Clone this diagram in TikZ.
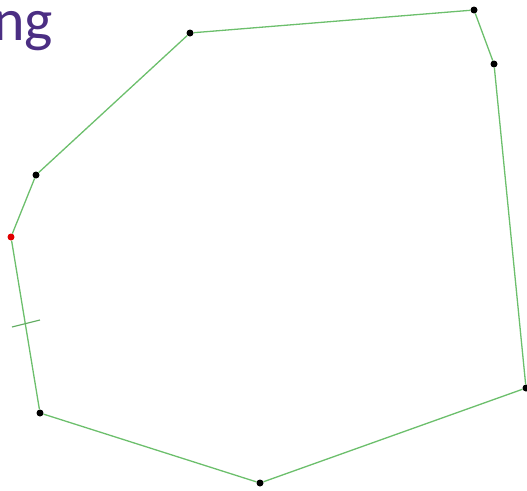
\documentclass[tikz,border=0pt]{standalone}
\usepackage{fontspec}
\setmainfont{Carlito}
\usetikzlibrary{positioning, calc}
\usepackage{xcolor}
\definecolor{titlecol}{HTML}{4B2E83}
\definecolor{edgecol}{HTML}{6CBF6C}
\definecolor{startcol}{HTML}{E00000}

\begin{document}
\begin{tikzpicture}[
  x=1pt, y=-1pt,
  vtx/.style={circle, fill=black, inner sep=0pt, minimum size=7pt},
  edge/.style={draw=edgecol, line width=1.3pt},
]
\useasboundingbox (0,0) rectangle (527,490);

% Title fragment
\node[anchor=base west, inner sep=0pt, text=titlecol, font=\fontsize{60}{60}\selectfont] (title) at (-7,40) {ng};

% Polygon vertices
\node[vtx] (a) at (190,33) {};
\node[vtx] (b) at (474,10) {};
\node[vtx] (c) at (494,64) {};
\node[vtx] (d) at (526,388) {};
\node[vtx] (e) at (260,483) {};
\node[vtx] (f) at (40,413) {};
\node[vtx, fill=startcol] (g) at (11,237) {};
\node[vtx] (h) at (36,175) {};

% Edges
\foreach \u/\v in {a/b, b/c, c/d, d/e, e/f, f/g, g/h, h/a} {
  \draw[edge] (\u) -- (\v);
}

% Tick mark
\draw[edgecol!90!black, line width=1.2pt] (12,327) .. controls (26,324) .. (40,320);
\end{tikzpicture}
\end{document}
